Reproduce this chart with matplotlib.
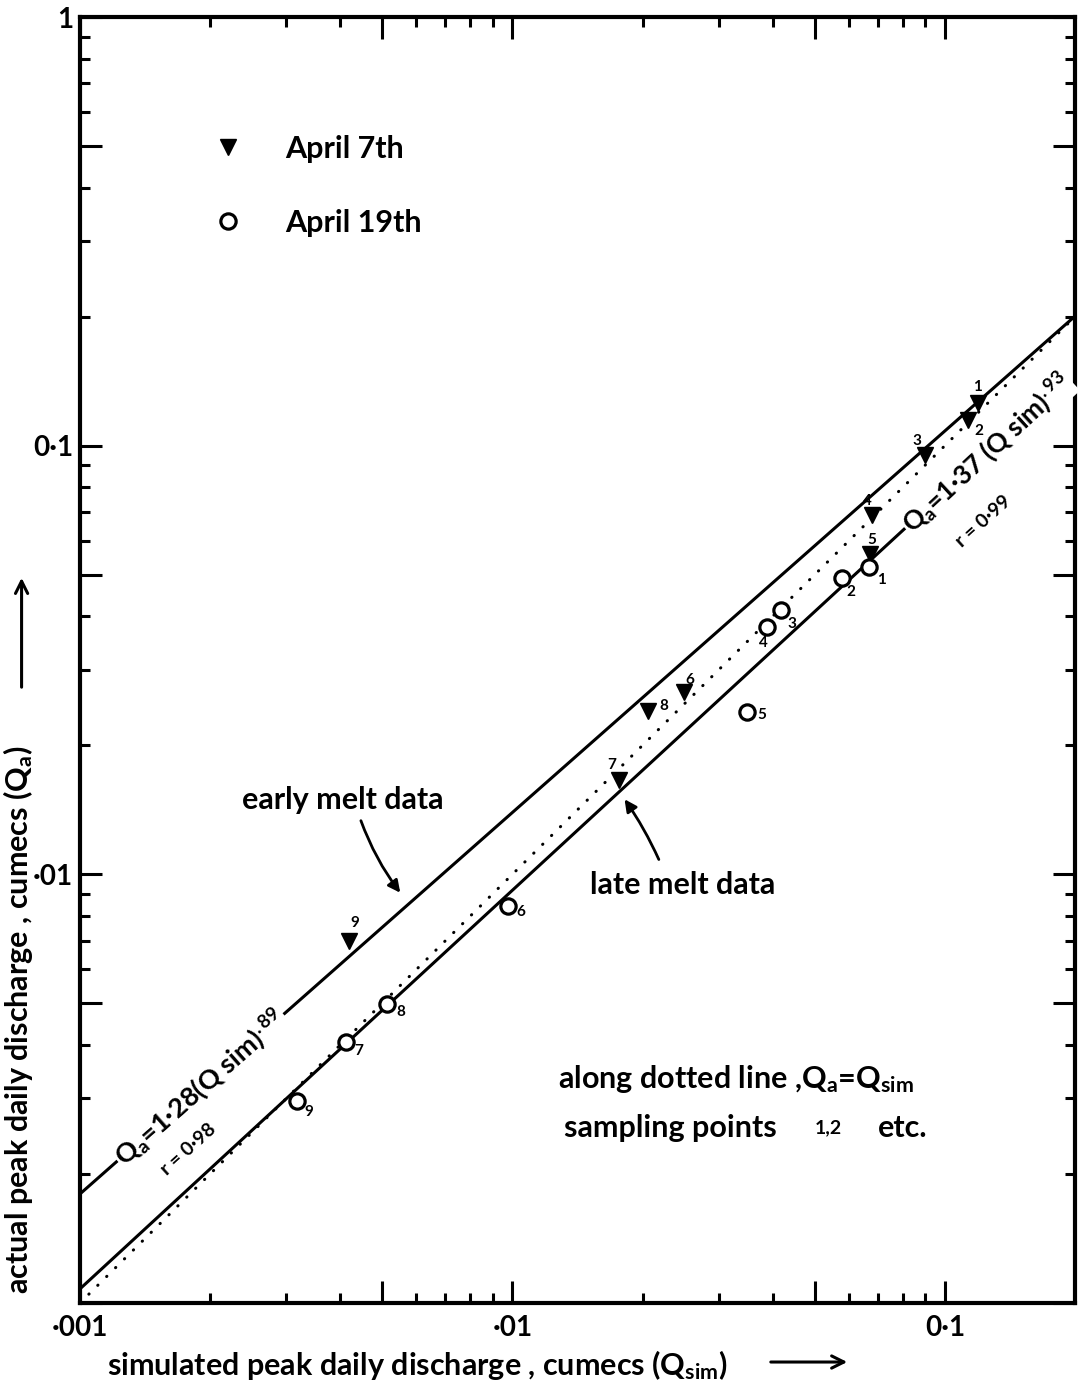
import numpy as np
import matplotlib
matplotlib.use("Agg")
import matplotlib.pyplot as plt
from matplotlib.ticker import FixedLocator, FixedFormatter, NullFormatter

plt.rcParams['font.family'] = ['Lato', 'DejaVu Sans']
plt.rcParams['font.weight'] = 'bold'
plt.rcParams['mathtext.fontset'] = 'custom'
plt.rcParams['mathtext.rm'] = 'Lato:bold'
plt.rcParams['mathtext.it'] = 'Lato:bold'
plt.rcParams['mathtext.bf'] = 'Lato:bold'
plt.rcParams['mathtext.sf'] = 'Lato:bold'

# ---- sampling point data (cumecs) ----
point_ids = [1, 2, 3, 4, 5, 6, 7, 8, 9]

apr7_sim = [0.119, 0.113, 0.090, 0.068, 0.067, 0.0250, 0.0176, 0.0206, 0.0042]
apr7_act = [0.126, 0.115, 0.095, 0.069, 0.056, 0.0267, 0.0166, 0.0241, 0.0070]

apr19_sim = [0.0667, 0.0577, 0.0417, 0.0387, 0.0348, 0.00976, 0.00413, 0.00512, 0.00318]
apr19_act = [0.0520, 0.0490, 0.0413, 0.0377, 0.0239, 0.00845, 0.00407, 0.00499, 0.00296]

# fitted power-law lines  Qa = coef * Qsim ** exp
early_coef, early_exp = 0.84, 0.89
late_coef, late_exp = 0.665, 0.93

# axis ticks
x_major = [0.001, 0.005, 0.01, 0.05, 0.1]
x_major_labels = ['·001', '', '·01', '', '0·1']
y_major = [0.001, 0.005, 0.01, 0.05, 0.1, 0.5, 1.0]
y_major_labels = ['', '', '·01', '', '0·1', '', '1']
x_minor = [m * d for d in (0.001, 0.01, 0.1) for m in (2, 3, 4, 6, 7, 8, 9) if m * d < 0.2]
y_minor = [m * d for d in (0.001, 0.01, 0.1) for m in (2, 3, 4, 6, 7, 8, 9)]

# label offsets (points) for the sampling-point numbers
apr7_offsets = [(0, 11.5), (8, -8), (-6, 10), (-3.5, 10), (1.5, 9.5),
                (3.5, 8.5), (-5, 11), (11, 3), (3.5, 13)]
apr19_offsets = [(9, -9), (6.5, -10), (8, -10), (-2, -11), (11, -2),
                 (9, -4.5), (9, -7), (10, -6), (8.5, -8)]

fig = plt.figure(figsize=(10.79, 13.86), dpi=100)
ax = fig.add_axes([0.0741, 0.0599, 0.9222, 0.9278])
ax.set_xscale('log')
ax.set_yscale('log')
ax.set_xlim(0.001, 0.2)
ax.set_ylim(0.001, 1.0)

for s in ax.spines.values():
    s.set_linewidth(3)

ax.xaxis.set_major_locator(FixedLocator(x_major))
ax.xaxis.set_major_formatter(FixedFormatter(x_major_labels))
ax.xaxis.set_minor_locator(FixedLocator(x_minor))
ax.xaxis.set_minor_formatter(NullFormatter())
ax.yaxis.set_major_locator(FixedLocator(y_major))
ax.yaxis.set_major_formatter(FixedFormatter(y_major_labels))
ax.yaxis.set_minor_locator(FixedLocator(y_minor))
ax.yaxis.set_minor_formatter(NullFormatter())
ax.tick_params(which='both', direction='in', top=True, right=True, width=2.2,
               labelsize=20, color='black')
ax.tick_params(which='major', length=16)
ax.tick_params(which='minor', length=7)
ax.tick_params(axis='x', which='major', pad=9)
ax.tick_params(axis='y', which='major', pad=5)

# positions of the equation labels along each fitted line
x_eq_early = 0.0019
x_eq_late = 0.125

# fitted lines (the late-melt line runs up to its equation label) and the 1:1 line
qs = np.logspace(-3, np.log10(0.2), 300)
qs_late = np.logspace(-3, np.log10(x_eq_late), 300)
ax.plot(qs, early_coef * qs ** early_exp, color='black', lw=2.2, zorder=2)
ax.plot(qs_late, late_coef * qs_late ** late_exp, color='black', lw=2.2, zorder=2)
ax.plot(qs, qs, color='black', lw=2.2, ls=(0, (0.1, 4)), dash_capstyle='round', zorder=2)

# sampling points
h7, = ax.plot(apr7_sim, apr7_act, 'v', ms=12, color='black', ls='none', zorder=5,
              label='April 7th')
h19, = ax.plot(apr19_sim, apr19_act, 'o', ms=11, mfc='white', mec='black', mew=2.3,
               ls='none', zorder=5, label='April 19th')

for i, x, y, off in zip(point_ids, apr7_sim, apr7_act, apr7_offsets):
    ax.annotate(str(i), (x, y), xytext=off, textcoords='offset points',
                ha='center', va='center', fontsize=11, zorder=6)
for i, x, y, off in zip(point_ids, apr19_sim, apr19_act, apr19_offsets):
    ax.annotate(str(i), (x, y), xytext=off, textcoords='offset points',
                ha='center', va='center', fontsize=11, zorder=6)


def line_angle(coef, exp, x0):
    x1, x2 = x0 / 1.3, x0 * 1.3
    p1 = ax.transData.transform((x1, coef * x1 ** exp))
    p2 = ax.transData.transform((x2, coef * x2 ** exp))
    return np.degrees(np.arctan2(p2[1] - p1[1], p2[0] - p1[0]))


# equation labels sitting on the fitted lines
ax.text(x_eq_early, early_coef * x_eq_early ** early_exp,
        r'Q$_{\mathrm{a}}$=1·28(Q sim)$^{.89}$',
        rotation=line_angle(early_coef, early_exp, x_eq_early), rotation_mode='anchor',
        ha='center', va='center', fontsize=19.5, zorder=3,
        bbox=dict(fc='white', ec='none', pad=1))
ax.text(x_eq_late, late_coef * x_eq_late ** late_exp,
        r'Q$_{\mathrm{a}}$=1·37 (Q sim)$^{.93}$',
        rotation=line_angle(late_coef, late_exp, x_eq_late), rotation_mode='anchor',
        ha='center', va='center', fontsize=19, zorder=3,
        bbox=dict(fc='white', ec='none', pad=1))

ax.text(0.1085, 0.1198, 'r = 0·98', transform=ax.transAxes, rotation=42,
        rotation_mode='anchor', ha='center', va='center', fontsize=14)
ax.text(0.9075, 0.6081, 'r = 0·99', transform=ax.transAxes, rotation=42,
        rotation_mode='anchor', ha='center', va='center', fontsize=14)

# melt annotations
ax.text(0.2643, 0.3911, 'early melt data', transform=ax.transAxes,
        ha='center', va='center', fontsize=22)
ax.annotate('', xy=(0.3236, 0.3173), xytext=(0.2814, 0.3771), xycoords='axes fraction',
            arrowprops=dict(arrowstyle='-|>', lw=2, color='black', mutation_scale=18,
                            connectionstyle='arc3,rad=0.08'))
ax.text(0.6060, 0.3250, 'late melt data', transform=ax.transAxes,
        ha='center', va='center', fontsize=22)
ax.annotate('', xy=(0.5457, 0.3935), xytext=(0.5829, 0.3429), xycoords='axes fraction',
            arrowprops=dict(arrowstyle='-|>', lw=2, color='black', mutation_scale=18,
                            connectionstyle='arc3,rad=0.05'))

ax.text(0.4804, 0.1742, r'along dotted line ,Q$_{\mathrm{a}}$=Q$_{\mathrm{sim}}$',
        transform=ax.transAxes, ha='left', va='center', fontsize=22)
ax.text(0.4864, 0.1361, 'sampling points', transform=ax.transAxes,
        ha='left', va='center', fontsize=22)
ax.text(0.7387, 0.1361, '1,2', transform=ax.transAxes,
        ha='left', va='center', fontsize=14)
ax.text(0.8020, 0.1361, 'etc.', transform=ax.transAxes,
        ha='left', va='center', fontsize=22)

# legend
ax.legend(handles=[h7, h19], loc='upper left', bbox_to_anchor=(0.1337, 0.9083),
          frameon=False, fontsize=22, handlelength=1.0, handletextpad=1.37,
          labelspacing=1.5, borderpad=0, borderaxespad=0)

# axis titles with direction arrows
fig.text(0.3869, 0.0152, r'simulated peak daily discharge , cumecs (Q$_{\mathrm{sim}}$)',
         ha='center', va='center', fontsize=22)
fig.text(0.0165, 0.2640, r'actual peak daily discharge , cumecs (Q$_{\mathrm{a}}$)',
         rotation=90, ha='center', va='center', fontsize=22)
ax.annotate('', xy=(0.7878, 0.0173), xytext=(0.7118, 0.0173), xycoords='figure fraction',
            arrowprops=dict(arrowstyle='->', lw=2.2, color='black', mutation_scale=22))
ax.annotate('', xy=(0.0200, 0.5851), xytext=(0.0200, 0.5022), xycoords='figure fraction',
            arrowprops=dict(arrowstyle='->', lw=2.2, color='black', mutation_scale=22))

fig.savefig('out.png', dpi=100, facecolor='white')
